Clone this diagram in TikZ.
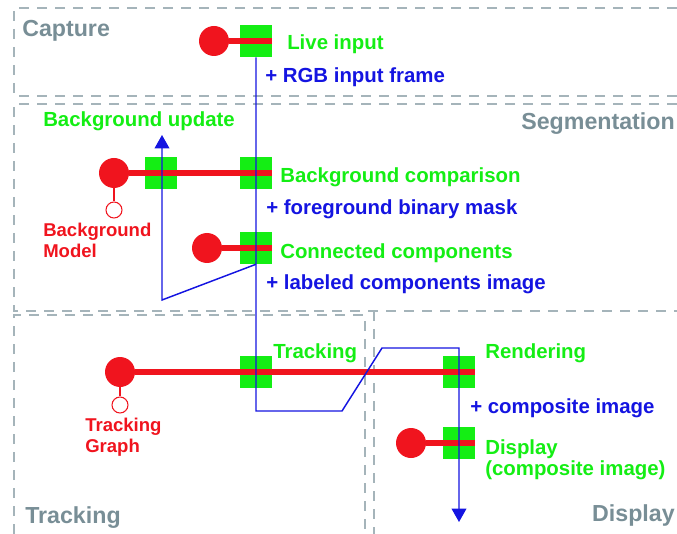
\documentclass[tikz,border=0pt]{standalone}
\usepackage{fontspec}
\setmainfont{Liberation Sans}
\usetikzlibrary{arrows.meta}
\definecolor{pipered}{RGB}{240,20,30}
\definecolor{stagegreen}{RGB}{20,238,20}
\definecolor{flowblue}{RGB}{20,20,225}
\definecolor{titlegray}{RGB}{120,142,150}
\definecolor{dashgray}{RGB}{165,180,186}
\begin{document}
\begin{tikzpicture}[x=0.75pt,y=-0.75pt,
  panel/.style={draw=dashgray,line width=1.1pt,dash pattern=on 7.5pt off 6pt},
  paneltitle/.style={text=titlegray,font=\fontsize{17.4}{20}\selectfont\bfseries,inner sep=0},
  hub/.style={circle,fill=pipered,minimum size=22.5pt,inner sep=0},
  store/.style={circle,draw=pipered,fill=white,line width=0.8pt,minimum size=12pt,inner sep=0},
  stage/.style={fill=stagegreen,minimum size=24pt,inner sep=0},
  bar/.style={draw=pipered,line width=4.5pt},
  link/.style={draw=pipered,line width=0.8pt},
  flow/.style={draw=flowblue,line width=1.1pt,-{Triangle[length=10pt,width=11pt]}},
  stagename/.style={text=stagegreen,font=\fontsize{15.3}{15.75}\selectfont\bfseries,inner sep=0,align=left},
  dataname/.style={text=flowblue,font=\fontsize{15.3}{15.75}\selectfont\bfseries,inner sep=0},
  storename/.style={text=pipered,font=\fontsize{13.9}{15.75}\selectfont\bfseries,inner sep=0,align=left}]
\useasboundingbox (0,0) rectangle (677,534);

% panels
\draw[panel] (677,8) -- (14,8) -- (14,96) -- (677,96);
\draw[panel] (677,104) -- (14,104) -- (14,311) -- (677,311);
\draw[panel] (14,534) -- (14,315) -- (365,315) -- (365,534);
\draw[panel] (374,311) -- (374,534);

\node[paneltitle,anchor=base west] (captitle) at (22,37) {Capture};
\node[paneltitle,anchor=base east] (segtitle) at (675,130) {Segmentation};
\node[paneltitle,anchor=base west] (trktitle) at (25,523) {Tracking};
\node[paneltitle,anchor=base east] (disptitle) at (675,521) {Display};

% stages
\node[stage] (capsq) at (256,41) {};
\node[stage] (bgsqA) at (161,173) {};
\node[stage] (bgsqB) at (256,173) {};
\node[stage] (ccsq) at (256,248) {};
\node[stage] (trksq) at (256,372) {};
\node[stage] (rensq) at (459,372) {};
\node[stage] (dispsq) at (459,443) {};

\node[hub] (capdot) at (214,41) {};
\node[hub] (bgdot) at (114,173) {};
\node[hub] (ccdot) at (207,248) {};
\node[hub] (trkdot) at (120,372) {};
\node[hub] (dispdot) at (411,443) {};

\draw[bar] (capdot) -- (capsq.east);
\draw[bar] (bgdot) -- (bgsqB.east);
\draw[bar] (ccdot) -- (ccsq.east);
\draw[bar] (trkdot) -- (rensq.east);
\draw[bar] (dispdot) -- (dispsq.east);

\node[store] (bgstore) at (114,210) {};
\node[store] (trkstore) at (120,405) {};
\draw[link] (bgdot.south) -- (bgstore.north);
\draw[link] (trkdot.south) -- (trkstore.north);

% labels
\node[stagename,anchor=base west] (livetxt) at (287,50) {Live input};
\node[dataname,anchor=base west] (rgbtxt) at (265,83) {+ RGB input frame};
\node[stagename,anchor=base west] (updtxt) at (43,127) {Background update};
\node[stagename,anchor=base west] (cmptxt) at (280,183) {Background comparison};
\node[dataname,anchor=base west] (masktxt) at (266,215) {+ foreground binary mask};
\node[storename,anchor=north west] (bgmodtxt) at (43,223) {Background\\Model};
\node[stagename,anchor=base west] (cctxt) at (280,258) {Connected components};
\node[dataname,anchor=base west] (lbltxt) at (266,290) {+ labeled components image};
\node[stagename,anchor=base west] (trktxt) at (273,358) {Tracking};
\node[storename,anchor=north west] (graphtxt) at (85,418) {Tracking\\Graph};
\node[stagename,anchor=base west] (rentxt) at (485,358) {Rendering};
\node[dataname,anchor=base west] (comptxt) at (470,413) {+ composite image};
\node[stagename,anchor=north west] (disptxt) at (485,439) {Display\\(composite image)};

% data flow
\coordinate (kneeA) at (342,411);
\coordinate (kneeB) at (382,348);
\coordinate (flowend) at (459,522);
\coordinate (updbase) at (162,300);
\coordinate (updtip) at (162,135);
\draw[flow] (capsq.south) |- (kneeA) -- (kneeB) -| (flowend);
\draw[flow] (ccsq.south) -- (updbase) -- (updtip);
\end{tikzpicture}
\end{document}
